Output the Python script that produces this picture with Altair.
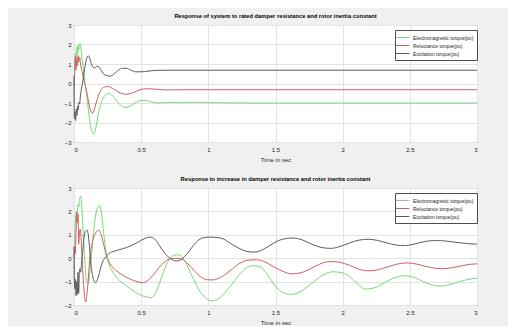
import altair as alt
import pandas as pd

series_names = ["Electromagnetic torque(pu)", "Reluctance torque(pu)", "Excitation torque(pu)"]
series_colors = ["#76d976", "#cf5f5f", "#5c5c5c"]
x_ticks = [0, 0.5, 1, 1.5, 2, 2.5, 3]
top_y_ticks = [-3, -2, -1, 0, 1, 2, 3]
bot_y_ticks = [-2, -1, 0, 1, 2, 3]
top_title = "Response of system to rated damper resistance and rotor inertia constant"
bot_title = "Response to increase in damper resistance and rotor inertia constant"
x_title = "Time in sec"

# ---- top panel (rated damper resistance) ----
top_em_t = [0, 0.005, 0.01, 0.015, 0.02, 0.025, 0.03, 0.035, 0.04, 0.045,
            0.055, 0.065, 0.075, 0.085, 0.095, 0.105, 0.115, 0.125, 0.135, 0.145,
            0.155, 0.165, 0.18, 0.2, 0.22, 0.24, 0.26, 0.28, 0.3, 0.33,
            0.36, 0.385, 0.41, 0.44, 0.47, 0.5, 0.54, 0.58, 0.62, 0.66,
            0.72, 0.8, 0.9, 1.0, 1.1, 1.3, 1.6, 2.0, 2.5, 3.0]
top_em_v = [-0.95, 0.9, 1.55, 1.2, 1.85, 1.5, 1.95, 1.7, 2.0, 2.05,
            1.6, 1.0, 0.45, -0.1, -0.6, -1.2, -1.8, -2.25, -2.5, -2.6,
            -2.5, -2.2, -1.6, -1.05, -0.72, -0.55, -0.5, -0.58, -0.75, -1.0,
            -1.18, -1.23, -1.18, -1.05, -0.93, -0.87, -0.88, -0.95, -1.0, -0.99,
            -0.97, -0.98, -0.96, -0.98, -0.99, -1.0, -1.0, -1.0, -1.0, -1.0]

top_rel_t = [0, 0.004, 0.01, 0.015, 0.02, 0.025, 0.03, 0.036, 0.042, 0.05,
             0.06, 0.07, 0.08, 0.09, 0.1, 0.11, 0.12, 0.13, 0.14, 0.15,
             0.165, 0.18, 0.2, 0.22, 0.25, 0.28, 0.31, 0.35, 0.39, 0.43,
             0.47, 0.51, 0.56, 0.62, 0.7, 0.8, 1.0, 1.5, 2.0, 2.5, 3.0]
top_rel_v = [-0.1, 0.3, 1.4, 0.7, 1.3, 0.9, 1.45, 1.1, 1.35, 0.95,
             0.6, 0.3, 0.0, -0.3, -0.6, -1.0, -1.3, -1.5, -1.52, -1.35,
             -1.0, -0.65, -0.35, -0.2, -0.15, -0.22, -0.35, -0.5, -0.55, -0.5,
             -0.38, -0.29, -0.27, -0.3, -0.33, -0.32, -0.32, -0.32, -0.32, -0.32, -0.32]

top_exc_t = [0, 0.003, 0.007, 0.012, 0.017, 0.022, 0.027, 0.032, 0.037, 0.042,
             0.047, 0.055, 0.065, 0.075, 0.085, 0.095, 0.105, 0.115, 0.125, 0.14,
             0.155, 0.17, 0.185, 0.2, 0.22, 0.245, 0.27, 0.3, 0.33, 0.36,
             0.39, 0.42, 0.46, 0.5, 0.55, 0.6, 0.7, 0.85, 1.0, 1.5,
             2.0, 2.5, 3.0]
top_exc_v = [0.4, -1.8, -1.45, -1.9, -1.3, -1.65, -1.15, -1.35, -0.95, -1.05,
             -0.7, -0.3, 0.1, 0.55, 1.0, 1.3, 1.42, 1.35, 1.1, 0.85,
             0.8, 0.88, 0.85, 0.7, 0.5, 0.4, 0.38, 0.5, 0.68, 0.78,
             0.78, 0.7, 0.6, 0.6, 0.63, 0.67, 0.68, 0.68, 0.68, 0.68,
             0.68, 0.68, 0.68]

# ---- bottom panel (increased damper resistance) ----
bot_em_t = [0, 0.006, 0.012, 0.018, 0.024, 0.03, 0.036, 0.042, 0.05, 0.058,
            0.066, 0.075, 0.085, 0.095, 0.105, 0.115, 0.13, 0.145, 0.16, 0.175,
            0.19, 0.205, 0.22, 0.24, 0.26, 0.29, 0.33, 0.37, 0.42, 0.47,
            0.52, 0.575, 0.61, 0.65, 0.69, 0.73, 0.77, 0.81, 0.85, 0.89,
            0.93, 0.97, 1.02, 1.07, 1.12, 1.17, 1.22, 1.27, 1.33, 1.38,
            1.43, 1.48, 1.53, 1.58, 1.61, 1.66, 1.72, 1.79, 1.86, 1.93,
            2.0, 2.05, 2.11, 2.17, 2.24, 2.31, 2.38, 2.46, 2.53, 2.6,
            2.67, 2.73, 2.8, 2.87, 2.94, 3.0]
bot_em_v = [-0.9, 1.0, 1.7, 2.0, 1.9, 2.3, 2.2, 2.55, 2.65, 2.2,
            1.3, 0.4, -0.5, -1.0, -1.08, -0.75, 0.1, 1.1, 1.8, 2.15,
            2.25, 1.9, 1.1, 0.2, -0.25, -0.6, -0.9, -1.1, -1.3, -1.5,
            -1.63, -1.68, -1.45, -0.85, -0.25, 0.08, 0.15, 0.02, -0.4, -0.9,
            -1.35, -1.65, -1.82, -1.75, -1.5, -1.15, -0.78, -0.47, -0.32, -0.35,
            -0.62, -1.05, -1.38, -1.52, -1.55, -1.5, -1.3, -0.98, -0.7, -0.58,
            -0.63, -0.78, -1.1, -1.32, -1.26, -1.05, -0.85, -0.75, -0.82, -1.0,
            -1.15, -1.19, -1.12, -1.0, -0.9, -0.86]

bot_rel_t = [0, 0.005, 0.01, 0.015, 0.02, 0.025, 0.03, 0.035, 0.04, 0.045,
             0.05, 0.06, 0.07, 0.08, 0.088, 0.095, 0.105, 0.115, 0.13, 0.15,
             0.17, 0.185, 0.2, 0.22, 0.24, 0.26, 0.29, 0.33, 0.37, 0.42,
             0.47, 0.51, 0.55, 0.59, 0.63, 0.67, 0.71, 0.76, 0.8, 0.84,
             0.89, 0.94, 0.99, 1.03, 1.08, 1.13, 1.18, 1.24, 1.3, 1.36,
             1.42, 1.48, 1.55, 1.62, 1.69, 1.76, 1.83, 1.91, 1.98, 2.05,
             2.12, 2.19, 2.26, 2.33, 2.4, 2.48, 2.55, 2.62, 2.69, 2.75,
             2.82, 2.89, 2.95, 3.0]
bot_rel_v = [0.0, 0.45, 0.2, 1.1, 1.95, 1.5, 1.9, 0.6, 1.0, 1.25,
             1.1, 0.0, -1.0, -1.7, -1.87, -1.6, -1.0, -0.2, 0.5, 0.95,
             1.15, 1.2, 1.05, 0.6, 0.15, -0.15, -0.4, -0.6, -0.75, -0.9,
             -1.0, -1.05, -0.95, -0.72, -0.42, -0.18, -0.04, 0.0, -0.03, -0.2,
             -0.5, -0.78, -0.92, -0.93, -0.85, -0.68, -0.45, -0.2, -0.08, -0.07,
             -0.15, -0.35, -0.55, -0.67, -0.62, -0.45, -0.25, -0.14, -0.18, -0.3,
             -0.47, -0.54, -0.5, -0.38, -0.26, -0.2, -0.25, -0.35, -0.43, -0.45,
             -0.4, -0.32, -0.26, -0.24]

bot_exc_t = [0, 0.005, 0.01, 0.015, 0.02, 0.025, 0.03, 0.035, 0.04, 0.045,
             0.05, 0.055, 0.065, 0.075, 0.085, 0.095, 0.105, 0.115, 0.125, 0.14,
             0.16, 0.175, 0.19, 0.21, 0.235, 0.26, 0.3, 0.36, 0.42, 0.48,
             0.53, 0.565, 0.6, 0.64, 0.68, 0.72, 0.76, 0.8, 0.85, 0.9,
             0.95, 1.0, 1.05, 1.1, 1.16, 1.22, 1.28, 1.34, 1.4, 1.46,
             1.52, 1.58, 1.63, 1.7, 1.77, 1.84, 1.91, 1.98, 2.05, 2.12,
             2.19, 2.26, 2.33, 2.4, 2.46, 2.53, 2.6, 2.67, 2.73, 2.8,
             2.87, 2.94, 3.0]
bot_exc_v = [0.5, -1.3, -0.9, -1.6, -1.0, -1.55, -0.6, -1.5, -0.55, -0.45,
             -0.6, -0.3, 0.3, 0.9, 1.15, 1.2, 1.05, 0.5, -0.2, -0.8,
             -1.05, -0.9, -0.6, -0.2, 0.05, 0.2, 0.3, 0.4, 0.52, 0.7,
             0.85, 0.9, 0.82, 0.5, 0.18, -0.02, -0.12, -0.05, 0.25, 0.62,
             0.85, 0.9, 0.89, 0.85, 0.65, 0.45, 0.3, 0.26, 0.35, 0.55,
             0.75, 0.84, 0.86, 0.78, 0.6, 0.46, 0.42, 0.5, 0.65, 0.77,
             0.81, 0.76, 0.65, 0.56, 0.54, 0.6, 0.7, 0.75, 0.75, 0.71,
             0.66, 0.62, 0.6]


def frame(groups):
    rows = []
    for name, ts, vs in groups:
        assert len(ts) == len(vs), name
        for t, v in zip(ts, vs):
            rows.append({"series": name, "t": t, "v": v})
    return pd.DataFrame(rows)


top_df = frame([(series_names[0], top_em_t, top_em_v),
                (series_names[1], top_rel_t, top_rel_v),
                (series_names[2], top_exc_t, top_exc_v)])
bot_df = frame([(series_names[0], bot_em_t, bot_em_v),
                (series_names[1], bot_rel_t, bot_rel_v),
                (series_names[2], bot_exc_t, bot_exc_v)])

FONT = "'Liberation Sans Narrow', 'Liberation Sans', Arial, sans-serif"


def panel(df, yticks, title, h):
    return alt.Chart(df).mark_line(strokeWidth=1, interpolate="monotone").encode(
        x=alt.X("t:Q", scale=alt.Scale(domain=[0, 3], nice=False),
                axis=alt.Axis(values=x_ticks, title=x_title, labelExpr="'' + datum.value")),
        y=alt.Y("v:Q", scale=alt.Scale(domain=[yticks[0], yticks[-1]], nice=False),
                axis=alt.Axis(values=yticks, title=None)),
        color=alt.Color("series:N",
                        scale=alt.Scale(domain=series_names, range=series_colors),
                        legend=alt.Legend(title=None, orient="none", legendX=321, legendY=5,
                                          fillColor="white", strokeColor="#4d4d4d", padding=3,
                                          labelFontSize=5, labelFont=FONT, labelColor="#262626",
                                          symbolType="M-1.7,0H1.7", symbolSize=64,
                                          symbolStrokeWidth=1, rowPadding=0, labelOffset=6,
                                          cornerRadius=0)),
    ).properties(width=403, height=h,
                 title=alt.TitleParams(title, fontSize=5.75, fontWeight="bold", font=FONT,
                                       offset=3, color="#000000", anchor="middle"))


top = panel(top_df, top_y_ticks, top_title, 117)
bot = panel(bot_df, bot_y_ticks, bot_title, 117)

chart = alt.vconcat(top, bot, spacing=12).resolve_legend(color="independent").configure(
    background="#f0f0f0",
    padding={"left": 0, "top": 4, "right": 28, "bottom": 0},
).configure_view(
    fill="white", stroke="#262626", strokeWidth=1
).configure_axis(
    domain=False, ticks=False, gridColor="#e3e3e3", gridWidth=1,
    labelFontSize=6, labelColor="#262626", labelFont=FONT,
    titleFont=FONT, titleFontSize=6, titleFontWeight="normal", titleColor="#262626"
).configure_axisY(
    minExtent=65, maxExtent=65, labelPadding=3
).configure_axisX(
    labelPadding=4, titlePadding=4
)

chart.save("out.html", embed_options={"renderer": "svg", "actions": False})
